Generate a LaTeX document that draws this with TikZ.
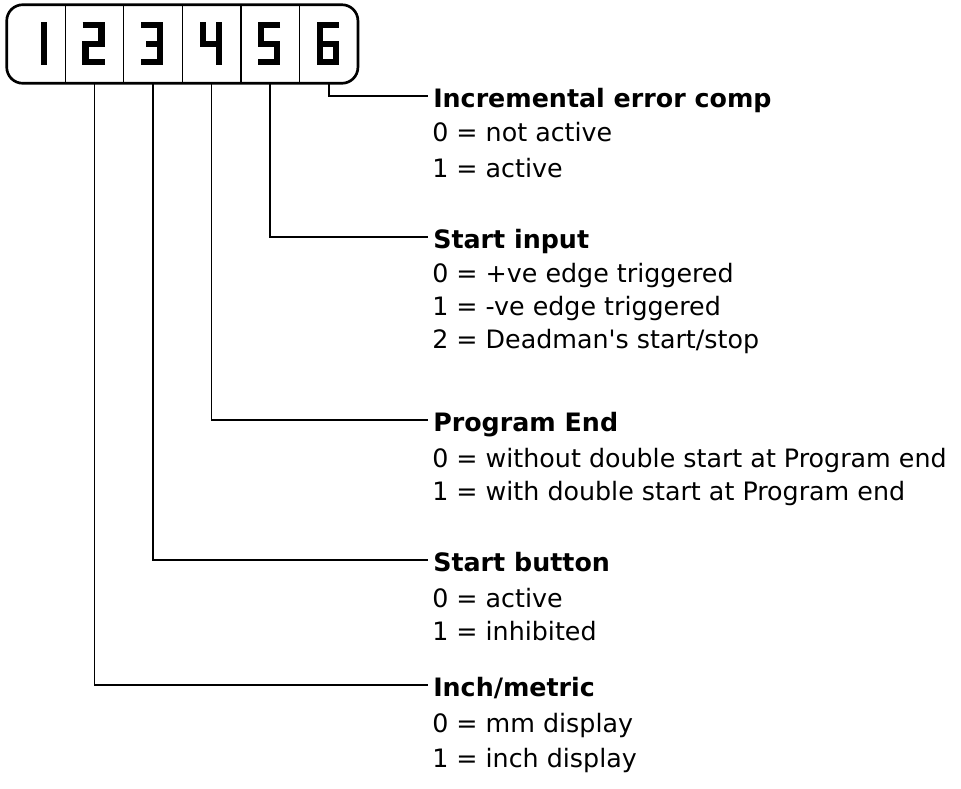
\documentclass[tikz,border=0pt]{standalone}
\usepackage{fontspec}
\setmainfont{DejaVu Sans}
\usetikzlibrary{positioning}
\tikzset{
  cell/.style={minimum width=58*0.75pt, minimum height=78*0.75pt, inner sep=0pt},
  seg/.style={line width=4.6pt, line join=miter},
  wire/.style={line width=1.3pt},
  head/.style={font=\bfseries\fontsize{19pt}{22pt}\selectfont, inner sep=0pt, anchor=base west},
  opt/.style={font=\fontsize{19pt}{22pt}\selectfont, inner sep=0pt, anchor=base west}
}
\begin{document}
\begin{tikzpicture}[x=0.75pt,y=-0.75pt]
\useasboundingbox (0,0) rectangle (961,789);

\node[cell] (c1) at (36,44) {};
\node[cell, right=0pt of c1] (c2) {};
\node[cell, right=0pt of c2] (c3) {};
\node[cell, right=0pt of c3] (c4) {};
\node[cell, right=0pt of c4] (c5) {};
\node[cell, right=0pt of c5] (c6) {};

\draw [line width=2pt, rounded corners=12pt] (c1.north west) rectangle (c6.south east);
\draw [line width=1pt] (c1.north east) -- (c1.south east);
\draw [line width=1pt] (c2.north east) -- (c2.south east);
\draw [line width=1pt] (c3.north east) -- (c3.south east);
\draw [line width=1pt] (c4.north east) -- (c4.south east);
\draw [line width=1pt] (c5.north east) -- (c5.south east);

\draw [seg, shift={(c1.center)}] (8,-22) -- (8,21);
\draw [seg, shift={(c2.center)}] (-12,-19) -- (7,-19) -- (7,0) -- (-9,0) -- (-9,18) -- (10,18);
\draw [seg, shift={(c3.center)}] (-12,-19) -- (7,-19) -- (7,18) -- (-12,18);
\draw [seg, shift={(c3.center)}] (-7,0) -- (7,0);
\draw [seg, shift={(c4.center)}] (-9,-22) -- (-9,0) -- (7,0);
\draw [seg, shift={(c4.center)}] (7,-22) -- (7,21);
\draw [seg, shift={(c5.center)}] (10,-19) -- (-9,-19) -- (-9,0) -- (7,0) -- (7,18) -- (-12,18);
\draw [seg, shift={(c6.center)}] (10,-19) -- (-9,-19) -- (-9,18) -- (7,18) -- (7,0) -- (-9,0);

\node[head] (h6) at (433,107) {Incremental error comp};
\node[opt] (o60) at (432,141) {0 = not active};
\node[opt] (o61) at (432,177) {1 = active};

\node[head] (h5) at (433,248) {Start input};
\node[opt] (o50) at (432,282) {0 = +ve edge triggered};
\node[opt] (o51) at (432,315) {1 = -ve edge triggered};
\node[opt] (o52) at (432,348) {2 = Deadman\textquotesingle s start/stop};

\node[head] (h4) at (433,431) {Program End};
\node[opt] (o40) at (432,467) {0 = without double start at Program end};
\node[opt] (o41) at (432,500) {1 = with double start at Program end};

\node[head] (h3) at (433,571) {Start button};
\node[opt] (o30) at (432,607) {0 = active};
\node[opt] (o31) at (432,640) {1 = inhibited};

\node[head] (h2) at (433,696) {Inch/metric};
\node[opt] (o20) at (432,732) {0 = mm display};
\node[opt] (o21) at (432,767) {1 = inch display};

\draw [wire] (c6.south) |- ([xshift=-4pt, yshift=8pt]h6.base west);
\draw [wire] (c5.south) |- ([xshift=-4pt, yshift=8pt]h5.base west);
\draw [wire] (c4.south) |- ([xshift=-4pt, yshift=8pt]h4.base west);
\draw [wire] (c3.south) |- ([xshift=-4pt, yshift=8pt]h3.base west);
\draw [wire] (c2.south) |- ([xshift=-4pt, yshift=8pt]h2.base west);
\end{tikzpicture}
\end{document}
